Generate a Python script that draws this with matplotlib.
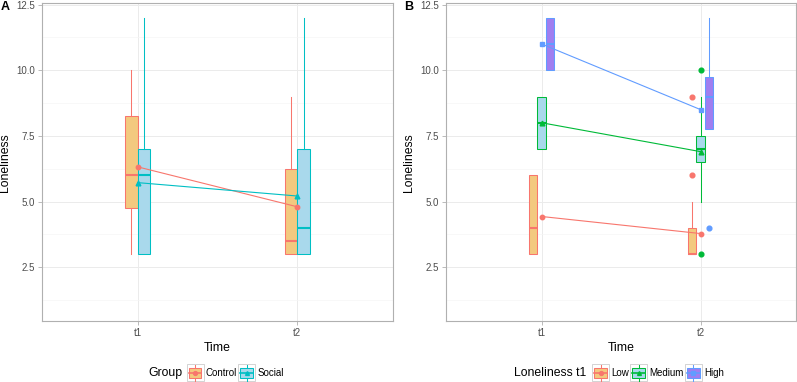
import matplotlib
matplotlib.use("Agg")
import matplotlib.pyplot as plt
from matplotlib.patches import Rectangle, Patch
from matplotlib.lines import Line2D
from matplotlib.legend_handler import HandlerBase
import numpy as np

plt.rcParams['font.family'] = ['Liberation Sans', 'DejaVu Sans']

# ---------------- data ----------------
times = ["t1", "t2"]

# Panel A: Group
groups_a = ["Control", "Social"]
ctrl_whislo = [3, 3]
ctrl_q1 = [4.75, 3]
ctrl_med = [6, 3.5]
ctrl_q3 = [8.25, 6.25]
ctrl_whishi = [10, 9]
ctrl_mean = [6.32, 4.80]

soc_whislo = [3, 3]
soc_q1 = [3, 3]
soc_med = [6, 4]
soc_q3 = [7, 7]
soc_whishi = [12, 12]
soc_mean = [5.72, 5.21]

# Panel B: Loneliness t1
groups_b = ["Low", "Medium", "High"]
low_whislo = [3, 3]
low_q1 = [3, 3]
low_med = [4, 3]
low_q3 = [6, 4]
low_whishi = [6, 5]
low_fliers = [[], [6, 9]]
low_mean = [4.43, 3.78]

med_whislo = [7, 5]
med_q1 = [7, 6.5]
med_med = [8, 7]
med_q3 = [9, 7.5]
med_whishi = [9, 9]
med_fliers = [[], [3, 10]]
med_mean = [8.0, 6.9]

high_whislo = [10, 7.75]
high_q1 = [10, 7.75]
high_med = [11, 9]
high_q3 = [12, 9.75]
high_whishi = [12, 12]
high_fliers = [[], [4]]
high_mean = [11.0, 8.5]

yticks = [2.5, 5.0, 7.5, 10.0, 12.5]
ytick_labels = ["2.5", "5.0", "7.5", "10.0", "12.5"]

# ---------------- styles ----------------
RED = "#F8766D"
TEAL = "#00BFC4"
GREEN = "#00BA38"
BLUE = "#619CFF"
F_ORANGE = "#F3C97F"
F_LBLUE = "#A9D9EC"
F_PURPLE = "#A07EF0"

GRID_MAJ = "#EBEBEB"
GRID_MIN = "#F5F5F5"
FRAME = "#B0B0B0"

TICK_FS = 7.0
TITLE_FS = 8.8

fig = plt.figure(figsize=(7.97, 3.82), dpi=100)
axA = fig.add_axes([42 / 797, 1 - 321 / 382, (393 - 42) / 797, (321 - 3.3) / 382])
axB = fig.add_axes([446.3 / 797, 1 - 321 / 382, (796 - 446.3) / 797, (321 - 3.3) / 382])

xpos = np.arange(1, len(times) + 1)


def make_stats(lo, q1, med, q3, hi, fliers=None):
    out = []
    for i in range(len(lo)):
        out.append(dict(whislo=lo[i], q1=q1[i], med=med[i], q3=q3[i], whishi=hi[i],
                        fliers=(fliers[i] if fliers else [])))
    return out


def draw_box(ax, stats, offset, width, edge, fill, zorder=3):
    ax.bxp(stats, positions=xpos + offset, widths=width, patch_artist=True,
           showcaps=False, showfliers=True, manage_ticks=False,
           boxprops=dict(facecolor=fill, edgecolor=edge, linewidth=0.75),
           medianprops=dict(color=edge, linewidth=1.5, solid_capstyle='butt'),
           whiskerprops=dict(color=edge, linewidth=0.75),
           flierprops=dict(marker='o', markerfacecolor=edge, markeredgecolor=edge,
                           markersize=3.4, linestyle='none'),
           zorder=zorder)


def style_axes(ax):
    ax.set_xlim(0.4, 2.6)
    ax.set_ylim(0.45, 12.55)
    ax.set_yticks(yticks)
    ax.set_yticklabels(ytick_labels)
    ax.set_yticks([1.25, 3.75, 6.25, 8.75, 11.25], minor=True)
    ax.set_xticks(xpos)
    ax.set_xticklabels(times)
    ax.grid(True, which='major', color=GRID_MAJ, linewidth=0.7, zorder=0)
    ax.grid(True, which='minor', axis='y', color=GRID_MIN, linewidth=0.5, zorder=0)
    ax.set_axisbelow(True)
    for s in ax.spines.values():
        s.set_color(FRAME)
        s.set_linewidth(0.8)
    ax.tick_params(which='major', length=3, width=0.6, color=FRAME, labelsize=TICK_FS,
                   labelcolor="#4D4D4D", pad=2)
    ax.tick_params(which='minor', length=0)
    ax.set_xlabel("Time", fontsize=TITLE_FS, labelpad=3)
    ax.set_ylabel("Loneliness", fontsize=TITLE_FS, labelpad=4)


# ---------------- Panel A ----------------
wA = 0.08
draw_box(axA, make_stats(ctrl_whislo, ctrl_q1, ctrl_med, ctrl_q3, ctrl_whishi), -wA / 2, wA, RED, F_ORANGE)
draw_box(axA, make_stats(soc_whislo, soc_q1, soc_med, soc_q3, soc_whishi), wA / 2, wA, TEAL, F_LBLUE)
axA.plot(xpos, ctrl_mean, color=RED, marker='o', markersize=3.2, linewidth=0.8, zorder=5)
axA.plot(xpos, soc_mean, color=TEAL, marker='^', markersize=3.4, linewidth=0.8, zorder=5)
style_axes(axA)

# ---------------- Panel B ----------------
wB = 0.053
draw_box(axB, make_stats(low_whislo, low_q1, low_med, low_q3, low_whishi, low_fliers), -wB, wB, RED, F_ORANGE)
draw_box(axB, make_stats(med_whislo, med_q1, med_med, med_q3, med_whishi, med_fliers), 0, wB, GREEN, F_LBLUE)
draw_box(axB, make_stats(high_whislo, high_q1, high_med, high_q3, high_whishi, high_fliers), wB, wB, BLUE, F_PURPLE)
axB.plot(xpos, low_mean, color=RED, marker='o', markersize=3.2, linewidth=0.8, zorder=5)
axB.plot(xpos, med_mean, color=GREEN, marker='^', markersize=3.4, linewidth=0.8, zorder=5)
axB.plot(xpos, high_mean, color=BLUE, marker='s', markersize=3.2, linewidth=0.8, zorder=5)
style_axes(axB)

# panel tags
fig.text(1 / 797, 1 - 7 / 382, "A", fontsize=9, fontweight='bold', ha='left', va='center')
fig.text(404 / 797, 1 - 7 / 382, "B", fontsize=9, fontweight='bold', ha='left', va='center')


# ---------------- legends ----------------
class BoxKey(HandlerBase):
    def __init__(self, edge, fill, marker):
        super().__init__()
        self.edge, self.fill, self.marker = edge, fill, marker

    def create_artists(self, legend, orig_handle, xdescent, ydescent, width, height, fontsize, trans):
        x0, y0 = -xdescent, -ydescent
        cx, cy = x0 + width / 2, y0 + height / 2
        bg = Rectangle((x0, y0), width, height, facecolor='white', edgecolor='#CCCCCC',
                       linewidth=0.6, transform=trans)
        vl = Line2D([cx, cx], [y0 + 0.04 * height, y0 + 0.96 * height], color=self.edge,
                    linewidth=0.75, transform=trans)
        bx = Rectangle((x0 + 0.12 * width, y0 + 0.2 * height), 0.76 * width, 0.6 * height,
                       facecolor=self.fill, edgecolor=self.edge, linewidth=0.75, transform=trans)
        hl = Line2D([x0 + 0.12 * width, x0 + 0.88 * width], [cy, cy], color=self.edge,
                    linewidth=1.2, transform=trans)
        pt = Line2D([cx], [cy], marker=self.marker, markersize=2.8, color=self.edge,
                    linestyle='none', transform=trans)
        return [bg, vl, bx, hl, pt]


def add_legend(title, labels, edges, fills, markers, x_key, x_title, y):
    handles = [Patch() for _ in labels]
    hmap = {h: BoxKey(e, f, m) for h, e, f, m in zip(handles, edges, fills, markers)}
    fig.legend(handles, labels, handler_map=hmap, loc='center left',
               bbox_to_anchor=(x_key, y), ncol=len(labels), frameon=False,
               handlelength=1.75, handleheight=2.35, handletextpad=0.25,
               columnspacing=0.1, borderpad=0, borderaxespad=0, fontsize=TICK_FS)
    fig.text(x_title, y, title, fontsize=TITLE_FS, ha='right', va='center')


yleg = 1 - 372.7 / 382
add_legend("Group", groups_a, [RED, TEAL], [F_ORANGE, F_LBLUE], ['o', '^'],
           186.5 / 797, 182.5 / 797, yleg)
add_legend("Loneliness t1", groups_b, [RED, GREEN, BLUE], [F_ORANGE, F_LBLUE, F_PURPLE],
           ['o', '^', 's'], 592 / 797, 586 / 797, yleg)

fig.savefig("out.png", dpi=100)
